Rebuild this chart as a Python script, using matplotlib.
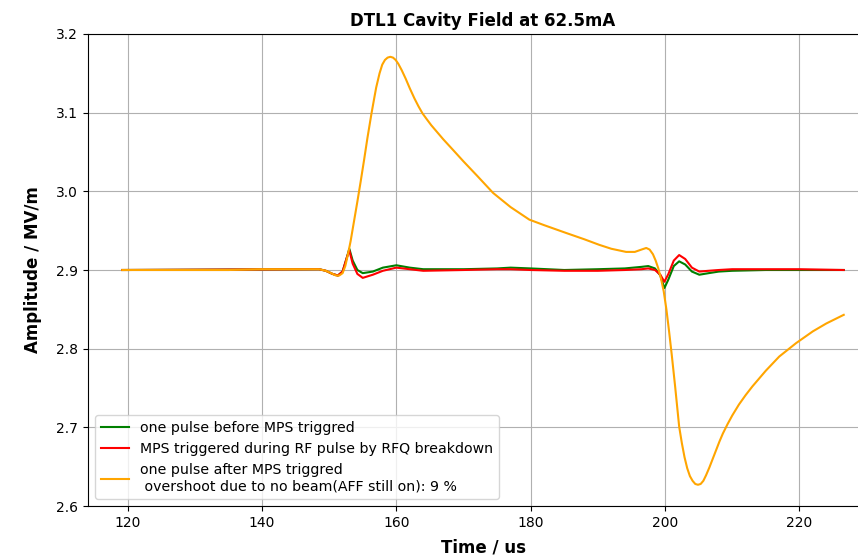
import matplotlib.pyplot as plt

# time axis (us) and amplitude (MV/m)
t_after = [119.2, 125, 130, 135, 140, 145, 148.5, 149.5, 150.3, 151.0, 151.5, 152.0, 152.4,
           152.8, 153.2, 153.7, 154.2, 154.7, 155.2, 155.7, 156.3, 156.7, 157.0, 157.5, 157.9,
           158.3, 158.7, 159.1, 159.5, 159.9, 160.3, 160.8, 161.4, 162.0, 162.7, 163.3, 163.9,
           164.5, 165.2, 166.0, 167.0, 168.4, 170, 172, 174.4, 177, 179.8, 182, 185.3, 188,
           190.2, 192, 194.2, 195.5, 196.5, 197.2, 197.7, 198.2, 198.6, 199.0, 199.4, 199.8,
           200.2, 200.6, 201.0, 201.5, 202.1, 202.5, 202.9, 203.3, 203.7, 204.1, 204.5, 204.9,
           205.3, 205.7, 206.1, 206.6, 207.1, 207.6, 208.1, 208.6, 209.3, 210, 211, 212, 213,
           215, 217, 219.5, 222, 224, 226.6]
amp_after = [2.900, 2.900, 2.900, 2.900, 2.901, 2.901, 2.901, 2.899, 2.896, 2.893, 2.893, 2.896, 2.905,
             2.920, 2.937, 2.962, 2.987, 3.013, 3.040, 3.068, 3.099, 3.118, 3.132, 3.150, 3.161,
             3.167, 3.170, 3.171, 3.170, 3.167, 3.162, 3.154, 3.143, 3.131, 3.118, 3.108, 3.099,
             3.092, 3.084, 3.076, 3.066, 3.053, 3.038, 3.020, 2.998, 2.980, 2.964, 2.957, 2.947, 2.939,
             2.932, 2.927, 2.923, 2.923, 2.926, 2.928, 2.926, 2.920, 2.912, 2.902, 2.889, 2.873,
             2.850, 2.822, 2.792, 2.752, 2.701, 2.680, 2.662, 2.648, 2.638, 2.632, 2.628, 2.627,
             2.628, 2.632, 2.639, 2.649, 2.660, 2.671, 2.682, 2.692, 2.704, 2.715, 2.729, 2.741, 2.752,
             2.772, 2.790, 2.807, 2.822, 2.832, 2.843]

t_pulse = [119.2, 148.5, 149.5, 150.5, 151.3, 152.0, 152.6, 153.0, 153.5, 154.2, 155.0, 156.5,
           158, 160, 162, 164, 170, 175, 177, 180, 185, 190, 194, 196.5, 197.5, 198.5, 199.3,
           199.9, 200.5, 201.3, 202.1, 203, 204, 205.1, 206.5, 208, 210, 215, 220, 226.6]
amp_before = [2.900, 2.901, 2.899, 2.895, 2.893, 2.898, 2.915, 2.927, 2.912, 2.900, 2.896, 2.898,
              2.903, 2.906, 2.903, 2.901, 2.901, 2.902, 2.903, 2.902, 2.900, 2.901, 2.902, 2.904,
              2.905, 2.902, 2.893, 2.877, 2.888, 2.905, 2.911, 2.907, 2.898, 2.894, 2.896, 2.898,
              2.899, 2.900, 2.900, 2.900]
amp_mps = [2.900, 2.901, 2.899, 2.895, 2.893, 2.898, 2.915, 2.925, 2.908, 2.895, 2.890, 2.894,
           2.899, 2.903, 2.901, 2.899, 2.900, 2.901, 2.901, 2.900, 2.899, 2.899, 2.900, 2.901,
           2.902, 2.900, 2.894, 2.885, 2.895, 2.912, 2.919, 2.914, 2.903, 2.898, 2.899, 2.900,
           2.901, 2.901, 2.901, 2.900]

fig = plt.figure(figsize=(8.58, 5.56), dpi=100)
ax = fig.add_axes([88 / 858, 50 / 556, 790 / 858, 472 / 556])

ax.plot(t_pulse, amp_before, color='green', linewidth=1.5, label='one pulse before MPS triggred')
ax.plot(t_pulse, amp_mps, color='red', linewidth=1.5, label='MPS triggered during RF pulse by RFQ breakdown')
ax.plot(t_after, amp_after, color='orange', linewidth=1.5,
        label='one pulse after MPS triggred\n overshoot due to no beam(AFF still on): 9 %')

ax.set_xlim(114.1, 231.7)
ax.set_ylim(2.6, 3.2)
ax.set_xticks([120, 140, 160, 180, 200, 220])
ax.grid(True)
ax.legend(loc='lower left', fontsize=10.2)

ax.set_title('DTL1 Cavity Field at 62.5mA', fontweight='bold', fontsize=12)
ax.set_xlabel('Time / us', fontweight='bold', fontsize=12, labelpad=6.5)
ax.set_ylabel('Amplitude / MV/m', fontweight='bold', fontsize=12, labelpad=10)

fig.savefig('out.png', dpi=100)
